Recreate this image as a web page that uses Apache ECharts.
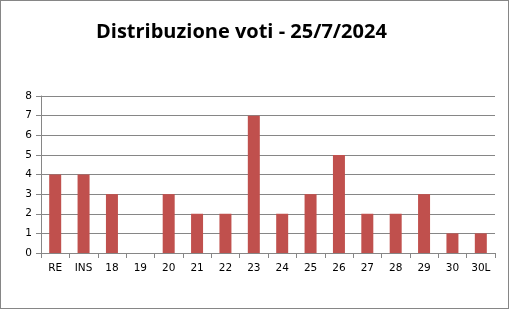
<!DOCTYPE html>
<html><head><meta charset="utf-8">
<script src="https://cdn.jsdelivr.net/npm/echarts@6/dist/echarts.min.js"></script>
<style>html,body{margin:0;padding:0;background:#fff}#c{width:509px;height:309px;box-sizing:border-box;border:1px solid #868686}</style>
</head><body><div id="c"></div>
<script>
const categories = ['RE','INS','18','19','20','21','22','23','24','25','26','27','28','29','30','30L'];
const values = [4,4,3,0,3,2,2,7,2,3,5,2,2,3,1,1];
const yTicks = [0,1,2,3,4,5,6,7,8];
const titleText = 'Distribuzione voti - 25/7/2024';

const chart = echarts.init(document.getElementById('c'), null, {renderer:'canvas'});
chart.setOption({
  animation:false,
  title:{text:titleText,left:90,top:16,textStyle:{fontFamily:'Open Sans',fontWeight:'bold',fontSize:20,color:'#000'}},
  grid:{left:40,right:13,top:95,bottom:55},
  xAxis:{type:'category',data:categories,
    axisLine:{lineStyle:{color:'#868686',width:1}},
    axisTick:{show:true,length:5,lineStyle:{color:'#868686'},alignWithLabel:false},
    axisLabel:{color:'#000',fontFamily:'DejaVu Sans',fontSize:10.5,margin:10,interval:0}},
  yAxis:{type:'value',min:0,max:8,interval:1,
    axisLine:{show:true,lineStyle:{color:'#868686'}},
    axisTick:{show:true,length:5,lineStyle:{color:'#868686'}},
    splitLine:{lineStyle:{color:'#868686',width:1}},
    axisLabel:{color:'#000',fontFamily:'DejaVu Sans',fontSize:10.5,margin:9,
      formatter:v=>yTicks.includes(v)?String(v):''}},
  series:[{type:'bar',data:values,barWidth:12,itemStyle:{color:'#C0504D'}}]
});
</script></body></html>
